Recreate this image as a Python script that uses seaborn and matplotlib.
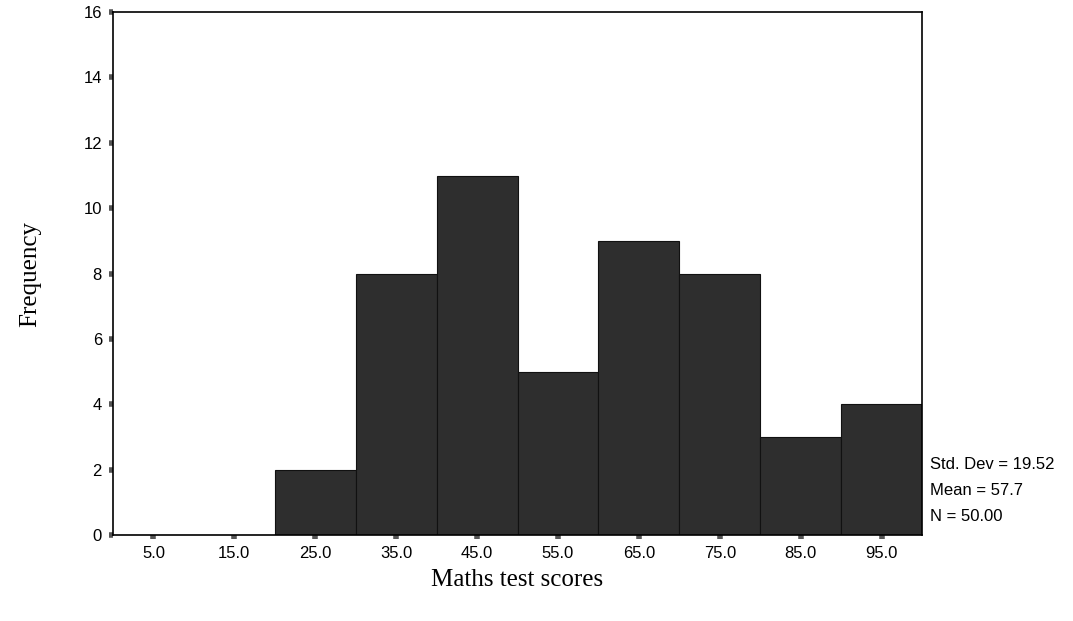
import numpy as np
import pandas as pd
import matplotlib
matplotlib.use("Agg")
import matplotlib.pyplot as plt
import seaborn as sns

# histogram of maths test scores (bin midpoints and counts)
bin_mids = [5, 15, 25, 35, 45, 55, 65, 75, 85, 95]
counts = [0, 0, 2, 8, 11, 5, 9, 8, 3, 4]
tick_labels = ["5.0", "15.0", "25.0", "35.0", "45.0", "55.0", "65.0", "75.0", "85.0", "95.0"]
y_ticks = [0, 2, 4, 6, 8, 10, 12, 14, 16]
stats_lines = ["Std. Dev = 19.52", "Mean = 57.7", "N = 50.00"]

df = pd.DataFrame({"score": bin_mids, "count": counts})

sns.set_style("white")
plt.rcParams["font.family"] = ["Liberation Sans", "DejaVu Sans"]

fig = plt.figure(figsize=(10.73, 6.21), dpi=100)
ax = fig.add_axes([0.1053, 0.1385, 0.754, 0.842])

sns.histplot(data=df, x="score", weights="count", binwidth=10, binrange=(0, 100),
             color="#2e2e2e", alpha=1, edgecolor="#111111", linewidth=0.8, ax=ax)

ax.set_xlim(0, 100)
ax.set_ylim(0, 16)
ax.set_xticks(bin_mids)
ax.set_xticklabels(tick_labels, fontsize=12)
ax.set_yticks(y_ticks)
ax.set_yticklabels([str(t) for t in y_ticks], fontsize=12)
ax.tick_params(axis="both", direction="out", length=3, width=4, color="#555555",
               labelcolor="black", bottom=True, left=True, pad=5)

for s in ax.spines.values():
    s.set_color("black")
    s.set_linewidth(1.2)

ax.set_xlabel("Maths test scores", fontsize=18, family="Liberation Serif",
              color="black", labelpad=6)
ax.set_ylabel("Frequency", fontsize=18, family="Liberation Serif",
              color="black", labelpad=30)

for i, line in enumerate(stats_lines):
    ax.text(1.01, 0.135 - i * 0.05, line, transform=ax.transAxes, fontsize=12,
            color="black", va="center", ha="left")

fig.savefig("out.png", dpi=100)
